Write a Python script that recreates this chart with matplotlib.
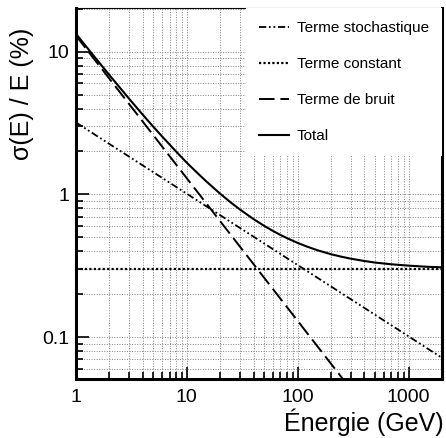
import numpy as np
import matplotlib.pyplot as plt
from matplotlib.ticker import FixedLocator, FixedFormatter, LogLocator, NullFormatter

plt.rcParams['font.family'] = ['Liberation Sans', 'DejaVu Sans']

# straight terms (two end points each, log-log lines)
e_ends = [1, 2000]
stoch_ends = [3.2, 0.0716]
const_ends = [0.3, 0.3]
noise_ends = [13.0, 0.0065]

# total resolution
e_total = [1, 1.5, 2, 3, 4, 5, 6, 7, 8, 10, 12, 15, 20, 25, 30, 40, 50, 60, 70, 80,
           100, 120, 150, 200, 250, 300, 400, 500, 700, 1000, 1500, 2000]
total = [13.39, 9.06, 6.89, 4.72, 3.63, 2.98, 2.548, 2.24, 2.003, 1.67, 1.455, 1.235,
         1.012, 0.8775, 0.787, 0.672, 0.602, 0.5546, 0.520, 0.4944, 0.4575, 0.4325,
         0.407, 0.381, 0.3656, 0.355, 0.3416, 0.333, 0.324, 0.317, 0.311, 0.3085]

labels = ["Terme stochastique", "Terme constant", "Terme de bruit", "Total"]

fig = plt.figure(figsize=(4.46, 4.38), dpi=100)
ax = fig.add_axes([0.170, 0.135, 0.821, 0.847])

ax.plot(e_ends, stoch_ends, color="black", lw=1.3, dashes=(4, 1.5, 1, 1.5, 1, 1.5),
        label=labels[0])
ax.plot(e_ends, const_ends, color="black", lw=1.6, dashes=(1, 1), label=labels[1])
ax.plot(e_ends, noise_ends, color="black", lw=1.4, dashes=(8, 3), label=labels[2])
ax.plot(e_total, total, color="black", lw=1.5, label=labels[3])

ax.set_xscale("log")
ax.set_yscale("log")
ax.set_xlim(1, 2000)
ax.set_ylim(0.051, 20.3)

ax.xaxis.set_major_locator(FixedLocator([1, 10, 100, 1000]))
ax.xaxis.set_major_formatter(FixedFormatter(["1", "10", "100", "1000"]))
ax.yaxis.set_major_locator(FixedLocator([0.1, 1, 10]))
ax.yaxis.set_major_formatter(FixedFormatter(["0.1", "1", "10"]))
ax.xaxis.set_minor_locator(LogLocator(base=10, subs=np.arange(2, 10)))
ax.yaxis.set_minor_locator(LogLocator(base=10, subs=np.arange(2, 10)))
ax.xaxis.set_minor_formatter(NullFormatter())
ax.yaxis.set_minor_formatter(NullFormatter())

ax.tick_params(which="both", direction="in", top=False, right=False, labelsize=14,
               width=1.2)
ax.tick_params(which="major", length=9, pad=7)
ax.tick_params(axis="y", which="major", pad=5)
ax.tick_params(which="minor", length=5)

ax.grid(True, which="both", color="#808080", lw=0.7, ls=(0, (1, 1.6)))
ax.set_axisbelow(True)

for side in ["left", "bottom", "right"]:
    ax.spines[side].set_linewidth(2.2)
ax.spines["top"].set_linewidth(0.8)

leg = ax.legend(loc="upper right", fontsize=11, frameon=True, fancybox=False,
                borderaxespad=0, handlelength=2.0, labelspacing=1.45,
                handletextpad=0.5, borderpad=0.85)
leg.get_frame().set_facecolor("white")
leg.get_frame().set_edgecolor("none")
leg.get_frame().set_alpha(1)
leg.set_zorder(10)

fig.text(0.05, 0.785, "σ(E) / E (%)", rotation=90, fontsize=18, ha="center", va="center")
fig.text(0.995, 0.035, "Énergie (GeV)", fontsize=18, ha="right", va="center")

fig.savefig("out.png", dpi=100)
